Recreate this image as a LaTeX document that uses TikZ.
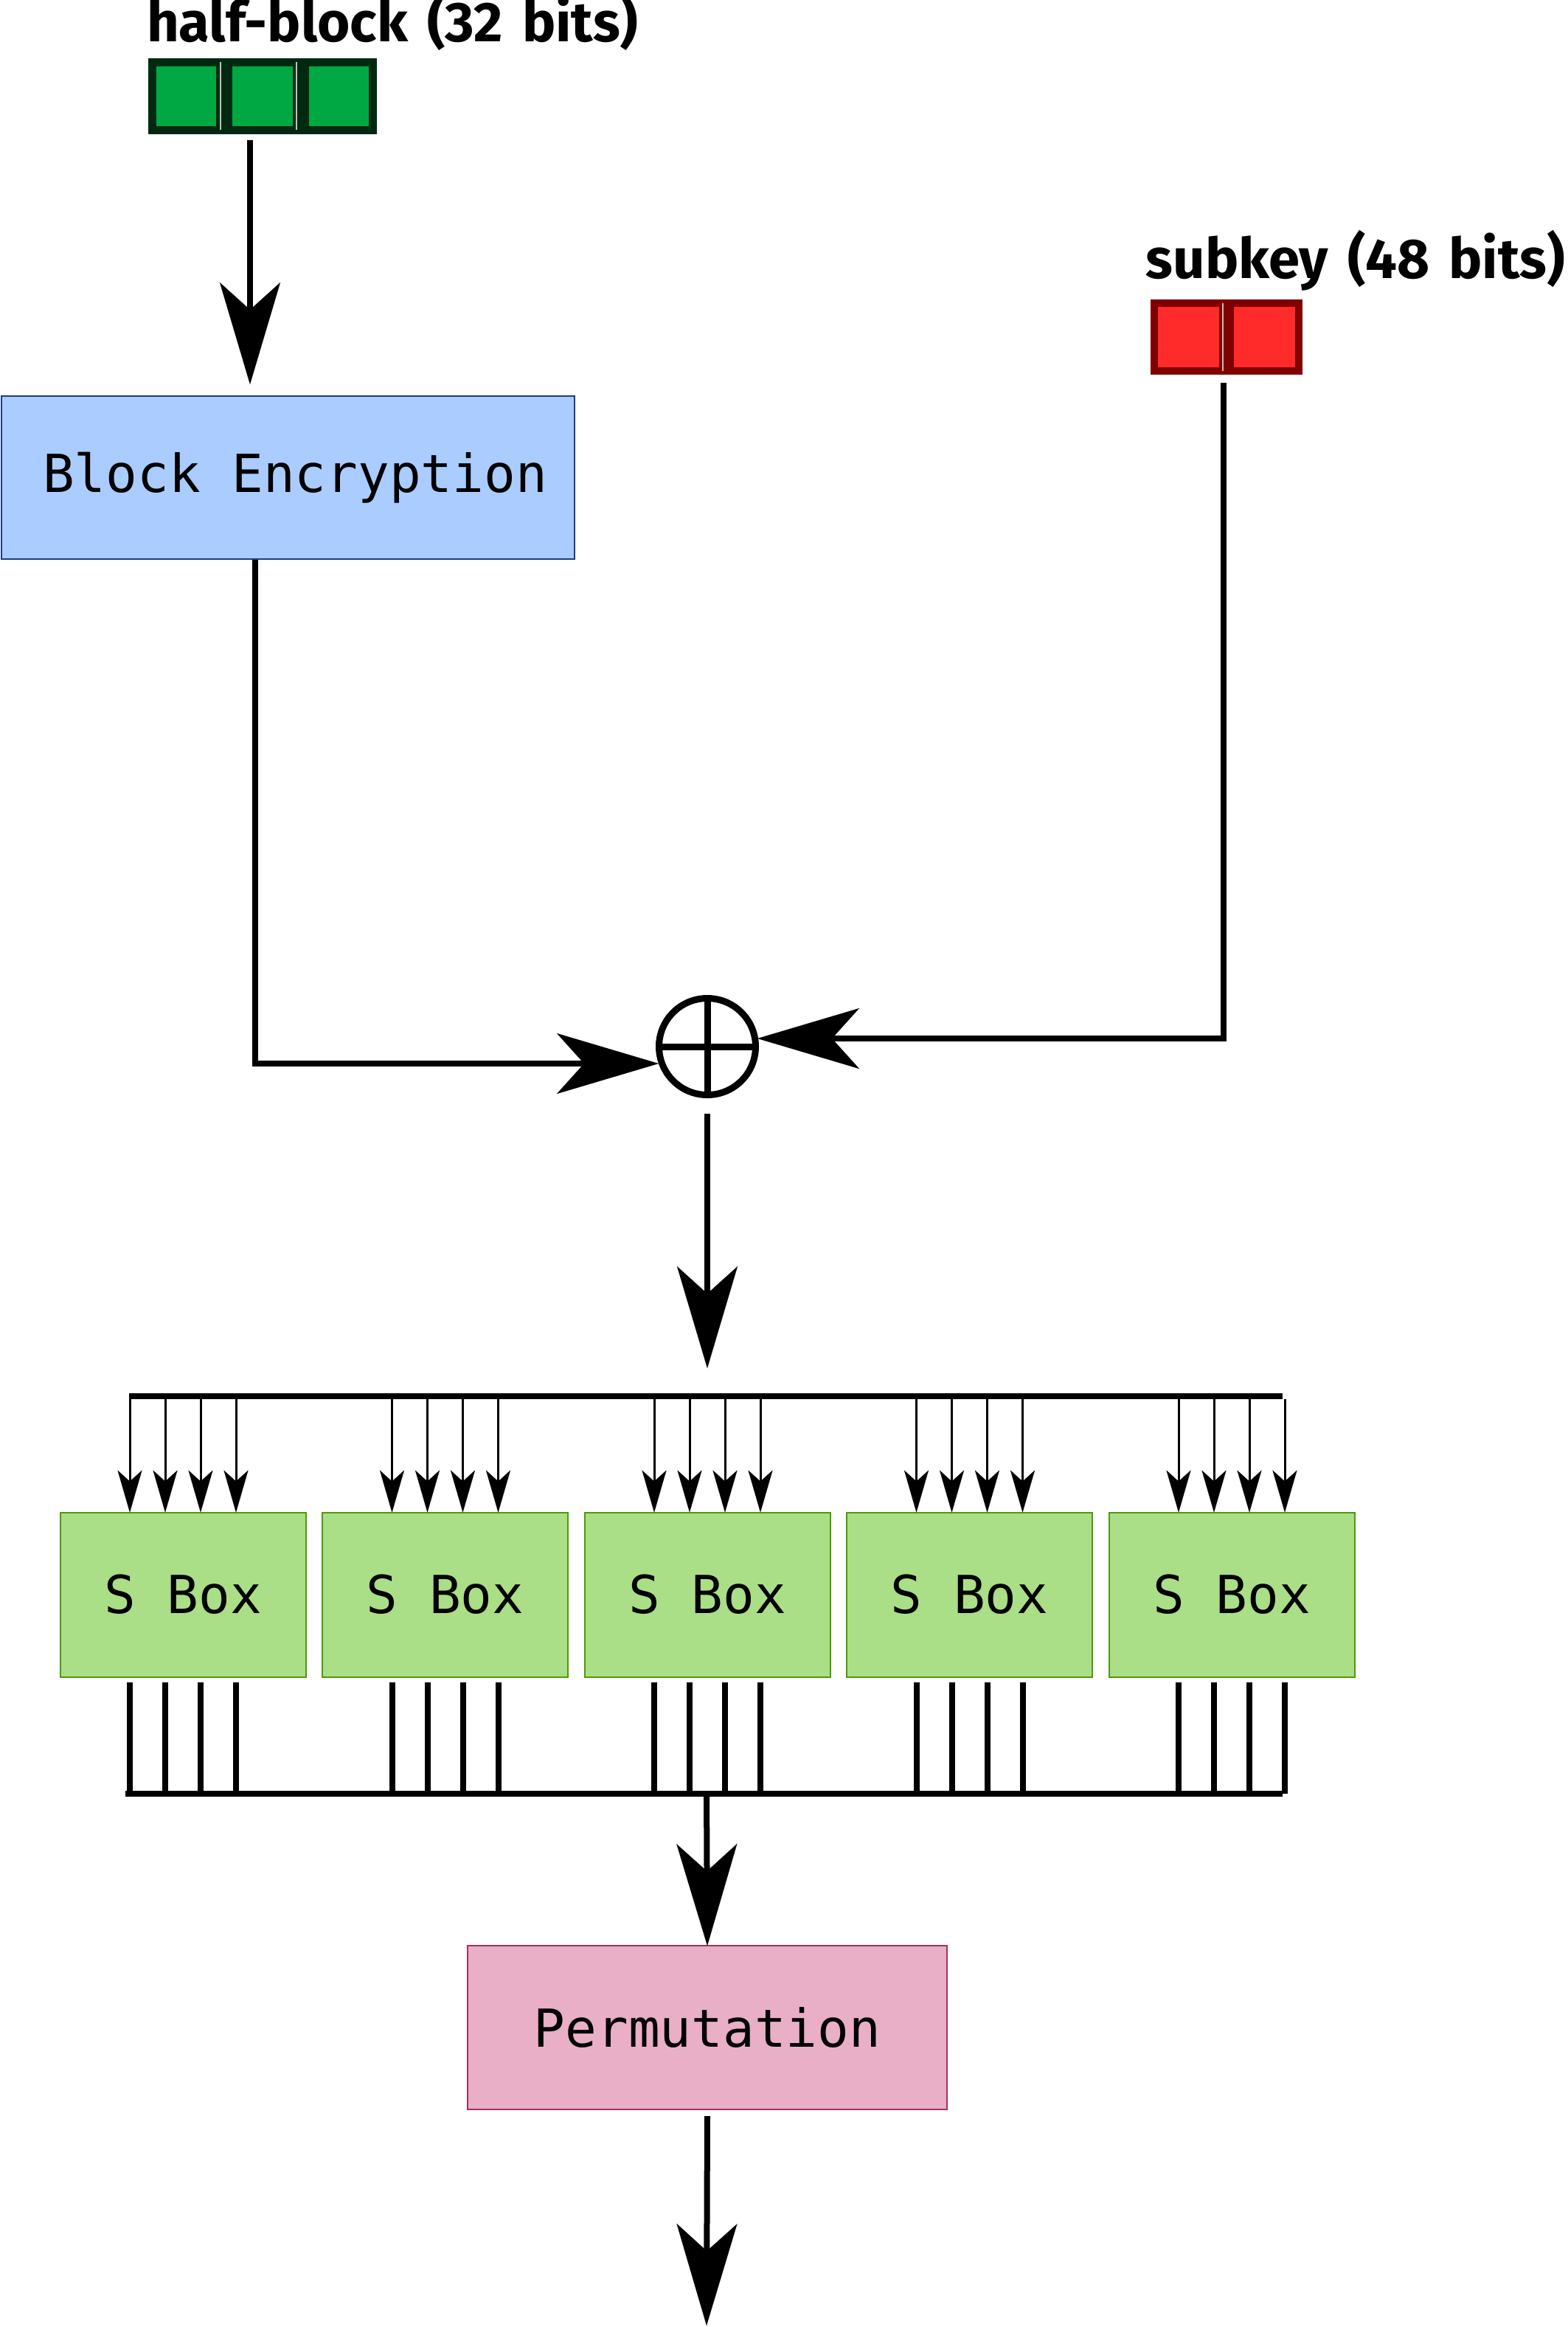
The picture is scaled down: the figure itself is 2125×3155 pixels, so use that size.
\documentclass[tikz,border=0pt]{standalone}
\usepackage{fontspec}
\usepackage{graphicx}
\setmonofont{DejaVu Sans Mono}
\newfontfamily\lblfont[WordSpace=1.45]{Fira Sans}
\usetikzlibrary{arrows.meta}
\definecolor{gfill}{HTML}{00A844}
\definecolor{gdark}{HTML}{002A10}
\definecolor{rfill}{HTML}{FF2A2A}
\definecolor{rdark}{HTML}{800000}
\definecolor{befill}{HTML}{AACCFF}
\definecolor{bedraw}{HTML}{1C3C82}
\definecolor{sbfill}{HTML}{AADE87}
\definecolor{sbdraw}{HTML}{4E9A06}
\definecolor{pfill}{HTML}{E9AFC6}
\definecolor{pdraw}{HTML}{A8305F}
\begin{document}
\begin{tikzpicture}[x=1pt,y=-1pt,
  lbl/.style={inner sep=0pt, outer sep=0pt, font=\lblfont\bfseries\fontsize{76}{90}\selectfont},
  gcell/.style={draw=gdark, fill=gfill, line width=11pt, minimum width=92.3pt, minimum height=92pt, inner sep=0pt, outer sep=0pt},
  rcell/.style={draw=rdark, fill=rfill, line width=10pt, minimum width=93pt, minimum height=92pt, inner sep=0pt, outer sep=0pt},
  mono/.style={font=\ttfamily\fontsize{71}{84}\selectfont},
  bebox/.style={mono, draw=bedraw, fill=befill, line width=2pt, minimum width=777pt, minimum height=221pt, inner sep=0pt, outer sep=0pt},
  sbox/.style={mono, draw=sbdraw, fill=sbfill, line width=2pt, minimum width=333pt, minimum height=223pt, inner sep=0pt, outer sep=0pt},
  pbox/.style={mono, draw=pdraw, fill=pfill, line width=2pt, minimum width=650pt, minimum height=222pt, inner sep=0pt, outer sep=0pt},
  bigarrow/.style={line width=8pt, -{Stealth[length=138pt, width=82pt, inset=37pt, line width=0.01pt]}},
  smallarrow/.style={line width=3pt, -{Stealth[length=57pt, width=33pt, inset=15pt, line width=0.01pt]}},
  wire/.style={line width=8pt},
  sep/.style={line width=1.5pt, draw=black!25}
]
\useasboundingbox (0,0) rectangle (2125,3155);

% labels
\node[lbl, anchor=base west] (hbl) at (199,57) {half-block (32 bits)};
\node[lbl, anchor=base east] (skl) at (2122,377) {subkey (48 bits)};

% green cells
\node[gcell] (g1) at (252.7,130.5) {};
\node[gcell] (g2) at (356,130.5) {};
\node[gcell] (g3) at (459.3,130.5) {};
\draw[sep] (g1.north east) -- (g1.south east);
\draw[sep] (g2.north east) -- (g2.south east);

% red cells
\node[rcell] (r1) at (1611.5,457) {};
\node[rcell] (r2) at (1714.5,457) {};
\draw[sep] (r1.north east) -- (r1.south east);

% block encryption
\node[bebox] (be) at (390,647.5) {\hspace*{20pt}Block Encryption};

% xor
\node[circle, draw, line width=9pt, minimum size=131pt, inner sep=0pt, outer sep=0pt] (xor) at (959,1419) {};
\draw[line width=9pt] (xor.north) -- (xor.south);
\draw[line width=9pt] (xor.west) -- (xor.east);

% coordinates for connectors
\coordinate (hbs) at (339,190);
\coordinate (hbe) at (339,521);
\coordinate (bel) at (346,759);
\coordinate (bec) at (346,1442);
\coordinate (xin) at (893,1442);
\coordinate (sks) at (1659,519);
\coordinate (skc) at (1659,1408);
\coordinate (xinr) at (1027,1408);
\coordinate (xos) at (959,1510);
\coordinate (xoe) at (959,1855);

\draw[bigarrow] (hbs) -- (hbe);
\draw[line width=8pt] (bel) -- (bec);
\draw[bigarrow] ([xshift=-4pt]bec) -- (xin);
\draw[line width=8pt] (sks) -- (skc);
\draw[bigarrow] ([xshift=4pt]skc) -- (xinr);
\draw[bigarrow] (xos) -- (xoe);

% buses
\coordinate (tbl) at (175,1893);
\coordinate (tbr) at (1739,1893);
\coordinate (bbl) at (170,2432);
\coordinate (bbr) at (1739,2432);
\draw[wire] (tbl) -- (tbr);
\draw[wire] (bbl) -- (bbr);

% s boxes
\foreach \k in {0,...,4} {
  \node[sbox] (sb\k) at (248+355.5*\k,2162) {S Box};
  \foreach \d in {-72,-24,24,72} {
    \draw[smallarrow] ([xshift=\d pt]sb\k.north |- tbl) ++(0,4) -- ([xshift=\d pt]sb\k.north);
    \draw[wire] ([xshift=\d pt, yshift=-7pt]sb\k.south) -- ([xshift=\d pt]sb\k.south |- bbl);
  }
}

% permutation
\node[pbox] (perm) at (959,2749) {Permutation};
\coordinate (ps) at (958,2428);
\draw[bigarrow] (ps) -- (perm.north);
\coordinate (pe) at (958,3153);
\draw[bigarrow] ([yshift=-9pt]perm.south) -- (pe);
\end{tikzpicture}
\end{document}
